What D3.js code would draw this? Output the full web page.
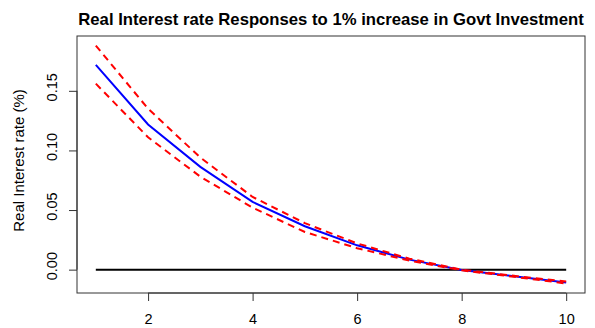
<!DOCTYPE html>
<html>
<head>
<meta charset="utf-8">
<script src="https://cdn.jsdelivr.net/npm/d3@7"></script>
<style>
  body { margin: 0; background: #fff; }
  text { font-family: "Liberation Sans", Arial, sans-serif; }
</style>
</head>
<body>
<script>
// impulse response horizon and estimates
var horizon = [1, 2, 3, 4, 5, 6, 7, 8, 9, 10];
var response = [0.1717, 0.1218, 0.0862, 0.0568, 0.0364, 0.0204, 0.0084, -0.0003, -0.0056, -0.0107];
var upper    = [0.1880, 0.1350, 0.0940, 0.0610, 0.0390, 0.0220, 0.0092, 0.0000, -0.0052, -0.0100];
var lower    = [0.1560, 0.1110, 0.0780, 0.0520, 0.0316, 0.0180, 0.0076, -0.0006, -0.0060, -0.0116];
var xTicks = [2, 4, 6, 8, 10];
var yTicks = [0.00, 0.05, 0.10, 0.15];

var W = 595, H = 328;
var margin = {top: 36, right: 10, bottom: 35, left: 77},
    width = W - margin.left - margin.right,
    height = H - margin.top - margin.bottom;

var svg = d3.select("body").append("svg")
    .attr("width", W)
    .attr("height", H);

var g = svg.append("g")
    .attr("transform", "translate(" + margin.left + "," + margin.top + ")");

// R style 4% padding on both axes
var xr = [1, 10], xpad = (xr[1] - xr[0]) * 0.04;
var yr = [d3.min(lower), d3.max(upper)], ypad = (yr[1] - yr[0]) * 0.04;

var x = d3.scaleLinear().domain([xr[0] - xpad, xr[1] + xpad]).range([0, width]);
var y = d3.scaleLinear().domain([yr[0] - ypad, yr[1] + ypad]).range([height, 0]);

var line = function(vals) {
  return d3.line()
    .x(function(d, i) { return x(horizon[i]); })
    .y(function(d) { return y(d); })(vals);
};

// zero line
g.append("path")
    .attr("d", line(horizon.map(function() { return 0; })))
    .attr("fill", "none")
    .attr("stroke", "#000")
    .attr("stroke-width", 2);

g.append("path")
    .attr("d", line(response))
    .attr("fill", "none")
    .attr("stroke", "#0000ff")
    .attr("stroke-width", 2);

[upper, lower].forEach(function(s) {
  g.append("path")
      .attr("d", line(s))
      .attr("fill", "none")
      .attr("stroke", "#ff0000")
      .attr("stroke-width", 2)
      .attr("stroke-dasharray", "7,5");
});

// box
g.append("rect")
    .attr("x", 0).attr("y", 0)
    .attr("width", width).attr("height", height)
    .attr("fill", "none")
    .attr("stroke", "#333")
    .attr("stroke-width", 1);

var xAxis = g.append("g")
    .attr("transform", "translate(0," + height + ")")
    .call(d3.axisBottom(x).tickValues(xTicks).tickSize(8).tickPadding(13)
      .tickFormat(d3.format("d")));
xAxis.select(".domain").attr("d", "M" + x(2) + ",0H" + x(10)).attr("stroke", "#333");
xAxis.selectAll(".tick line").attr("stroke", "#333");
xAxis.selectAll("text").attr("font-size", "14.5px").attr("fill", "#000")
    .attr("font-family", "Liberation Sans, Arial, sans-serif");

var yAxis = g.append("g")
    .call(d3.axisLeft(y).tickValues(yTicks).tickSize(8).tickFormat(d3.format(".2f")));
yAxis.select(".domain").attr("d", "M0," + y(0) + "V" + y(0.15)).attr("stroke", "#333");
yAxis.selectAll(".tick line").attr("stroke", "#333");
yAxis.selectAll(".tick text")
    .attr("font-size", "14.5px").attr("fill", "#000")
    .attr("font-family", "Liberation Sans, Arial, sans-serif")
    .attr("x", null).attr("dy", null)
    .attr("text-anchor", "middle")
    .attr("transform", "translate(-20,-4) rotate(-90)");

svg.append("text")
    .attr("transform", "translate(24," + (margin.top + height / 2 - 4) + ") rotate(-90)")
    .attr("text-anchor", "middle")
    .attr("font-size", "15px")
    .text("Real Interest rate (%)");

svg.append("text")
    .attr("x", margin.left + width / 2)
    .attr("y", 25)
    .attr("text-anchor", "middle")
    .attr("font-size", "16.7px")
    .attr("font-weight", "bold")
    .text("Real Interest rate Responses to 1% increase in Govt Investment");
</script>
</body>
</html>
